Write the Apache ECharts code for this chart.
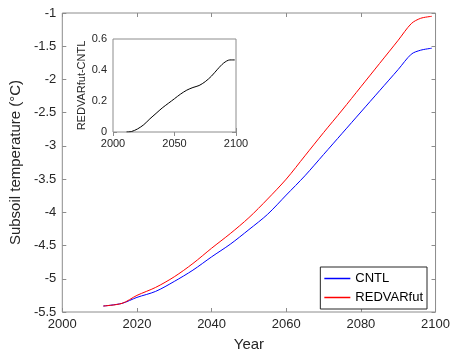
<!DOCTYPE html>
<html>
<head>
<meta charset="utf-8">
<script src="https://cdn.jsdelivr.net/npm/echarts@6/dist/echarts.min.js"></script>
<style>
  html, body { margin: 0; padding: 0; background: #fff; }
  #chart { width: 453px; height: 357px; }
</style>
</head>
<body>
<div id="chart"></div>
<script>
// main panel: subsoil temperature
const years = [2011, 2016, 2020, 2025, 2030, 2035, 2040, 2045, 2050, 2055, 2060, 2065, 2070, 2075, 2080, 2085, 2090, 2093.5, 2096, 2099];
const cntl = [-5.41, -5.37, -5.28, -5.19, -5.04, -4.87, -4.67, -4.48, -4.26, -4.03, -3.74, -3.45, -3.13, -2.81, -2.49, -2.17, -1.85, -1.62, -1.56, -1.53];
const redvarfut = [-5.41, -5.37, -5.25, -5.13, -4.97, -4.77, -4.54, -4.32, -4.08, -3.80, -3.50, -3.15, -2.80, -2.46, -2.11, -1.76, -1.41, -1.16, -1.08, -1.05];

// inset: difference REDVARfut - CNTL
const diffYears = [2011, 2015, 2020, 2025, 2030, 2035, 2040, 2045, 2050, 2055, 2060, 2065, 2070, 2075, 2080, 2085, 2090, 2095, 2099];
const diff = [0, 0.003, 0.02, 0.047, 0.085, 0.12, 0.155, 0.185, 0.215, 0.245, 0.27, 0.287, 0.30, 0.325, 0.36, 0.405, 0.445, 0.465, 0.465];

const font = 'Liberation Sans, Arial, sans-serif';
const frame = '#8c8c8c';
const txt = '#262626';

function pairs(xs, ys) { return xs.map((x, i) => [x, ys[i]]); }

function ax(gi, pos, min, max, interval, labels, size) {
  return {
    type: 'value', gridIndex: gi, position: pos, min: min, max: max, interval: interval,
    axisLine: { show: false },
    axisTick: { show: true, inside: true, length: 4, lineStyle: { color: frame } },
    axisLabel: { show: labels, color: txt, fontFamily: font, fontSize: size, margin: 6, formatter: v => String(v) },
    splitLine: { show: false }
  };
}

const chart = echarts.init(document.getElementById('chart'));
chart.setOption({
  animation: false,
  grid: [
    { left: 54, right: 17, top: 13, bottom: 45, show: true, borderColor: frame, borderWidth: 1, backgroundColor: '#fff' },
    { left: 113, right: 217, top: 39, bottom: 225, show: true, borderColor: frame, borderWidth: 1, backgroundColor: '#fff', z: 5 }
  ],
  legend: {
    data: ['CNTL', 'REDVARfut'],
    orient: 'vertical', right: 26, top: 267,
    icon: 'rect', itemWidth: 26, itemHeight: 1.5, itemGap: 6,
    borderColor: '#262626', borderWidth: 1, padding: [5, 4, 5, 4],
    backgroundColor: '#fff',
    textStyle: { color: '#000', fontFamily: font, fontSize: 13 }
  },
  xAxis: [
    Object.assign(ax(0, 'bottom', 2000, 2100, 20, true, 13), {
      name: 'Year', nameLocation: 'middle', nameGap: 25,
      nameTextStyle: { color: txt, fontFamily: font, fontSize: 15 }
    }),
    ax(0, 'top', 2000, 2100, 20, false, 13),
    ax(1, 'bottom', 2000, 2100, 50, true, 11),
    ax(1, 'top', 2000, 2100, 50, false, 11)
  ],
  yAxis: [
    Object.assign(ax(0, 'left', -5.5, -1, 0.5, true, 13), {
      name: 'Subsoil temperature (°C)', nameLocation: 'middle', nameGap: 32,
      nameTextStyle: { color: txt, fontFamily: font, fontSize: 15 }
    }),
    ax(0, 'right', -5.5, -1, 0.5, false, 13),
    Object.assign(ax(1, 'left', 0, 0.6, 0.2, true, 11), {
      name: 'REDVARfut-CNTL', nameLocation: 'middle', nameGap: 19,
      nameTextStyle: { color: txt, fontFamily: font, fontSize: 11 }
    }),
    ax(1, 'right', 0, 0.6, 0.2, false, 11)
  ],
  series: [
    { name: 'CNTL', type: 'line', xAxisIndex: 0, yAxisIndex: 0, data: pairs(years, cntl), smooth: 0.3, showSymbol: false, lineStyle: { color: '#0000ff', width: 1 }, itemStyle: { color: '#0000ff' } },
    { name: 'REDVARfut', type: 'line', xAxisIndex: 0, yAxisIndex: 0, data: pairs(years, redvarfut), smooth: 0.3, showSymbol: false, lineStyle: { color: '#ff0000', width: 1 }, itemStyle: { color: '#ff0000' } },
    { name: 'diff', type: 'line', xAxisIndex: 2, yAxisIndex: 2, data: pairs(diffYears, diff), smooth: 0.3, showSymbol: false, lineStyle: { color: '#000', width: 1 }, z: 10 }
  ]
});
</script>
</body>
</html>
